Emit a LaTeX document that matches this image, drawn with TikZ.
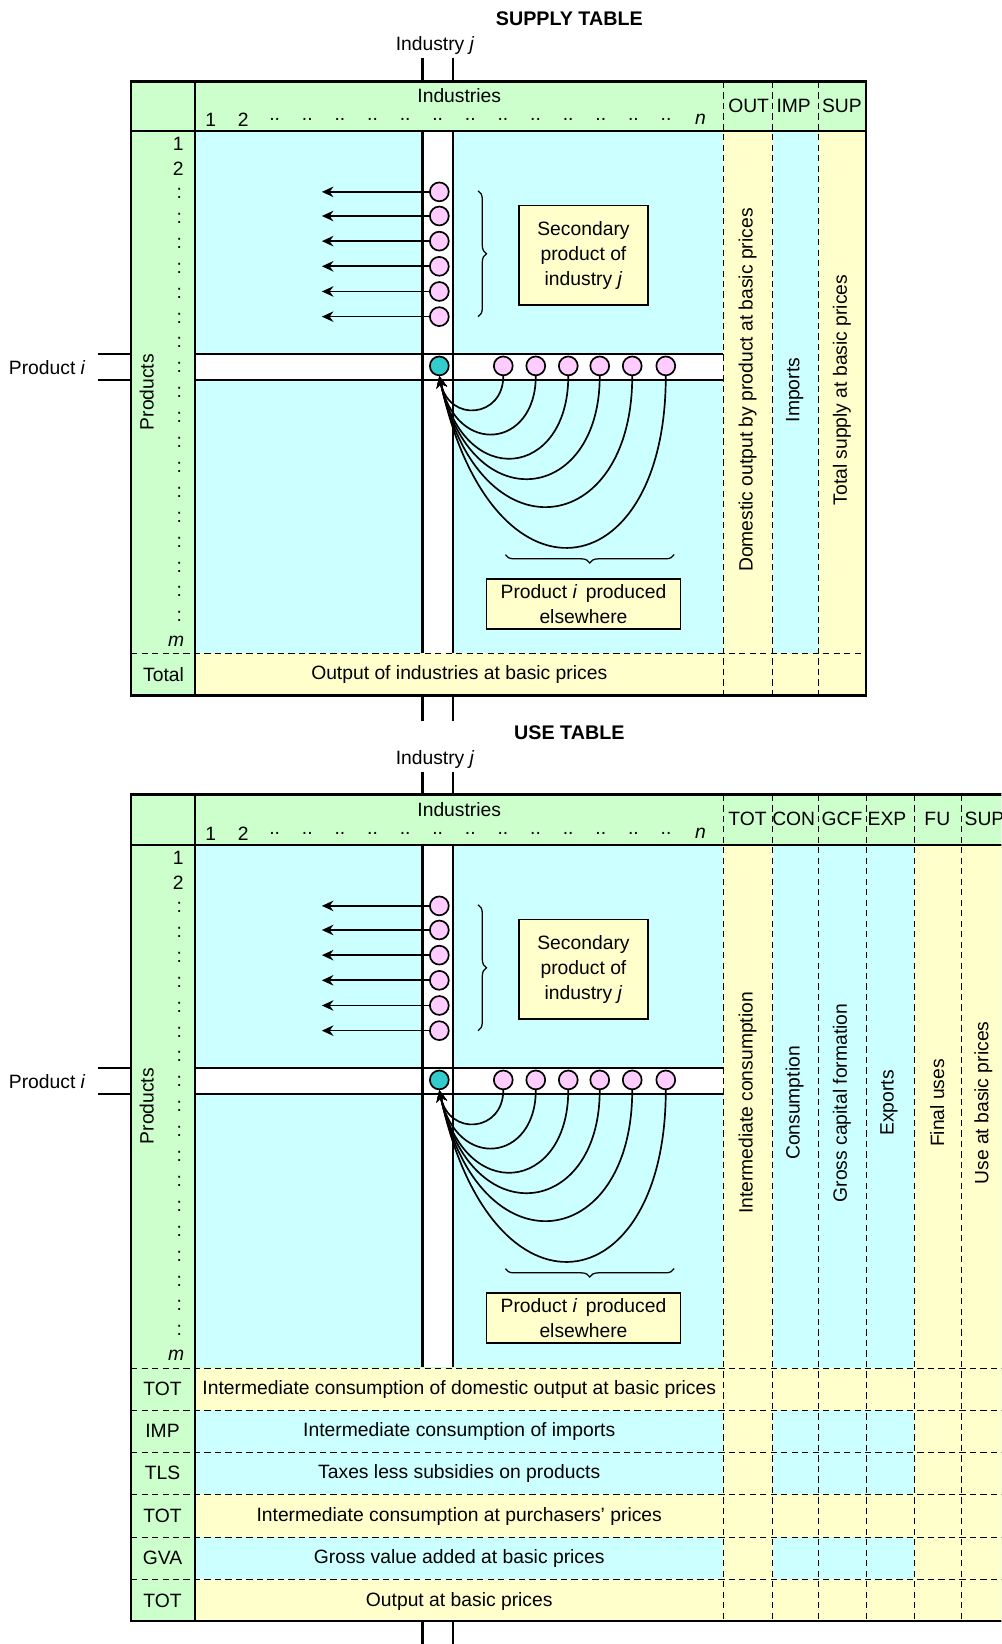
\documentclass[tikz,border=0pt]{standalone}
\usepackage{fontspec}
\setmainfont{Liberation Sans}
\usetikzlibrary{arrows.meta,calc,positioning,decorations.pathreplacing}
\definecolor{hdgreen}{HTML}{CCFFCC}
\definecolor{cyancell}{HTML}{CCFFFF}
\definecolor{yelcell}{HTML}{FFFFCC}
\definecolor{pinkdot}{HTML}{FFCCFF}
\definecolor{tealdot}{HTML}{33CCCC}
\tikzset{
  frame/.style = {line width=1.3pt},
  sep/.style   = {densely dashed, line width=0.45pt},
  strip/.style = {line width=1pt},
  lbl/.style   = {inner sep=1pt, font=\fontsize{9.2}{11}\selectfont},
  vlbl/.style  = {lbl, rotate=90},
  ttl/.style   = {inner sep=1pt, font=\fontsize{9.4}{11}\selectfont\bfseries},
  pdot/.style  = {circle, draw, line width=0.8pt, fill=pinkdot, minimum size=9pt, inner sep=0pt},
  tdot/.style  = {pdot, fill=tealdot},
  note/.style  = {draw, line width=0.8pt, fill=yelcell, align=center, inner sep=0pt,
                  font=\fontsize{9.2}{12}\selectfont},
  vec/.style   = {-{Stealth[length=5.5pt,width=5pt]}, line width=0.8pt},
  brc/.style   = {decorate, decoration={brace,amplitude=4pt}, line width=0.6pt},
}

\begin{document}
\begin{tikzpicture}[x=0.5pt,y=-0.5pt]
  \clip (0,0) rectangle (955,1568);
  % supply table fills
  \fill[hdgreen] (125,78) rectangle (826,663);
  \fill[yelcell] (186,623) rectangle (826,663);
  \fill[yelcell] (690,125) rectangle (737,623);
  \fill[cyancell] (737,125) rectangle (781,623);
  \fill[yelcell] (781,125) rectangle (826,623);
  % use table fills
  \fill[hdgreen] (125,758) rectangle (962,1546);
  \fill[yelcell] (186,1305) rectangle (962,1546);
  \foreach \ya/\yb in {1345/1425,1466/1506}
    \fill[cyancell] (186,\ya) rectangle (690,\yb);
  \fill[yelcell] (690,806) rectangle (962,1305);
  \foreach \ya/\yb in {806/1305,1345/1425,1466/1506}
    \fill[cyancell] (737,\ya) rectangle (872,\yb);

  % the part both tables share
  \foreach \dy/\tb in {0/s,681/u} {
  \begin{scope}[shift={(0,\dy)}, name prefix=\tb-]
    \fill[cyancell] (186,125) rectangle (690,623);
    \fill[white] (403,125) rectangle (432,623);
    \fill[white] (186,338) rectangle (690,362);
    \draw[strip] (403,55) -- (403,78) (432,55) -- (432,78)
                 (403,125) -- (403,623) (432,125) -- (432,623);
    \draw[strip] (186,338) -- (690,338) (186,362) -- (690,362)
                 (93,338) -- (125,338) (93,362) -- (125,362);
    \node[lbl] (indj) at (415,43) {Industry \textit{j}};
    \node[lbl] (prodi) at (45,351) {Product \textit{i}};
    \node[vlbl] (prods) at (140,374) {Products};
    % header
    \node[lbl] (inds) at (438,91) {Industries};
    \node[lbl] (c1) at (201,114) {1};
    \node[lbl] (c2) at (232,114) {2};
    \foreach \k in {0,...,12}
      \node[lbl] (cd\k) at ({262+31.1*\k},114) {..};
    \node[lbl] (cn) at (668,114) {\textit{n}};
    % rows
    \node[lbl] (r1) at (170,137) {1};
    \node[lbl] (r2) at (170,161) {2};
    \foreach \k in {2,...,19}
      \node[lbl] (rd\k) at (171,{137+23.75*\k}) {:};
    \node[lbl] (rm) at (168,612) {\textit{m}};
    % secondary products of industry j
    \foreach \y [count=\n] in {183,206,230,254,278,302} {
      \node[pdot] (v\n) at (419,\y) {};
      \coordinate (w\n) at (307,\y);
      \draw[vec] (v\n) -- (w\n);
    }
    \draw[brc] (456,182) -- (456,302);
    \node[note, minimum width=61.5pt, minimum height=47.5pt] (sec) at (556.5,243.5)
      {Secondary\\product of\\industry \textit{j}};
    % product i made by other industries
    \node[tdot] (hub) at (419,349) {};
    \foreach \x/\c [count=\n] in {480/44,511/76,542/108,572/135,603/172,635/226} {
      \node[pdot] (h\n) at (\x,349) {};
      \draw[vec] (h\n.south) .. controls +(0,{0.9*\c}) and +({0.22*\c},{1.02*\c}) .. (hub.south);
    }
    \draw[brc] (643,529) -- (482,529);
    \node[note, minimum width=92.5pt, minimum height=24pt] (else) at (556.5,576)
      {Product \textit{i}\, produced\\elsewhere};
  \end{scope}}

  % supply table
  \node[ttl] (suptitle) at (543,18) {SUPPLY TABLE};
  \draw[strip] (403,663) -- (403,688) (432,663) -- (432,688);
  \draw[sep] (125,623) -- (826,623);
  \foreach \x in {690,737,781}
    \draw[sep] (\x,78) -- (\x,663);
  \draw[frame] (125,78) rectangle (826,663) (186,78) -- (186,663) (125,125) -- (826,125);
  \foreach \x/\t in {714/OUT,757/IMP,803/SUP}
    \node[lbl] (sh\t) at (\x,101) {\t};
  \node[vlbl] (sout) at (713,372) {Domestic output by product at basic prices};
  \node[vlbl] (simp) at (758,372) {Imports};
  \node[vlbl] (ssup) at (803,372) {Total supply at basic prices};
  \node[lbl] (stot) at (156,643) {Total};
  \node[lbl] (stotx) at (438,643) {Output of industries at basic prices};

  % use table
  \node[ttl] (usetitle) at (543,699) {USE TABLE};
  \draw[strip] (403,1546) -- (403,1570) (432,1546) -- (432,1570);
  \foreach \y in {1305,1345,1385,1425,1466,1506}
    \draw[sep] (125,\y) -- (962,\y);
  \foreach \x in {690,737,781,826,872,917}
    \draw[sep] (\x,758) -- (\x,1546);
  \draw[frame] (125,758) rectangle (962,1546) (186,758) -- (186,1546) (125,806) -- (962,806);
  \foreach \x/\t in {713/TOT,757/CON,803/GCF,846/EXP,894/FU,939/SUP}
    \node[lbl] (uh\t) at (\x,781) {\t};
  \node[vlbl] (uic) at (713,1052) {Intermediate consumption};
  \node[vlbl] (ucon) at (758,1052) {Consumption};
  \node[vlbl] (ugcf) at (803,1052) {Gross capital formation};
  \node[vlbl] (uexp) at (848,1052) {Exports};
  \node[vlbl] (ufu) at (894,1052) {Final uses};
  \node[vlbl] (usup) at (938,1052) {Use at basic prices};
  \foreach \y/\c/\t [count=\n] in {
      1325/TOT/Intermediate consumption of domestic output at basic prices,
      1365/IMP/Intermediate consumption of imports,
      1405/TLS/Taxes less subsidies on products,
      1446/TOT/Intermediate consumption at purchasers' prices,
      1486/GVA/Gross value added at basic prices,
      1527/TOT/Output at basic prices} {
    \node[lbl] (uc\n) at (155,\y) {\c};
    \node[lbl] (ut\n) at (438,\y) {\t};
  }
\end{tikzpicture}
\end{document}
